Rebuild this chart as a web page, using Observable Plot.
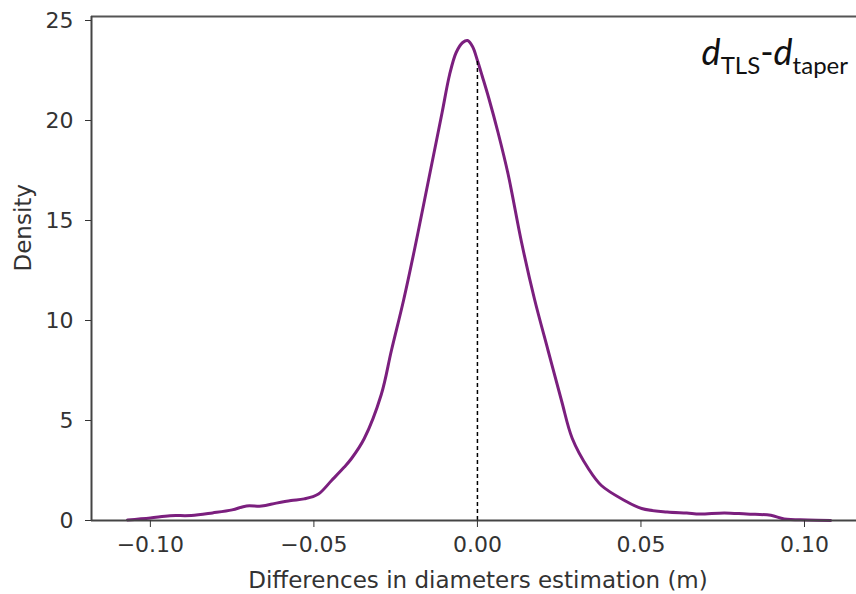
<!DOCTYPE html>
<html>
<head>
<meta charset="utf-8">
<script src="https://cdn.jsdelivr.net/npm/d3@7"></script>
<script src="https://cdn.jsdelivr.net/npm/@observablehq/plot@0.6"></script>
<style>
  html, body { margin: 0; padding: 0; background: #fff; }
  #chart svg { display: block; }
</style>
</head>
<body>
<div id="chart"></div>
<script>
// KDE curve
const diffs = [-0.107, -0.100, -0.094, -0.0875, -0.081, -0.075, -0.0706, -0.066, -0.0615, -0.057, -0.053, -0.0486, -0.0446, -0.0407, -0.0385, -0.0346, -0.0294, -0.0263, -0.0226, -0.0193, -0.0162, -0.0135, -0.0108, -0.0085, -0.0065, -0.0045, -0.003, -0.0015, 0.000, 0.0015, 0.0035, 0.0063, 0.0094, 0.0135, 0.0174, 0.0216, 0.0257, 0.029, 0.0339, 0.0379, 0.045, 0.0502, 0.058, 0.064, 0.068, 0.0755, 0.0823, 0.0897, 0.0938, 0.101, 0.108];
const density = [0.03, 0.13, 0.24, 0.25, 0.38, 0.53, 0.73, 0.72, 0.87, 1.0, 1.08, 1.33, 2.0, 2.67, 3.1, 4.1, 6.3, 8.5, 11.0, 13.5, 16.0, 18.2, 20.4, 22.3, 23.4, 23.9, 24.0, 23.7, 23.0, 22.2, 21.1, 19.4, 17.3, 13.9, 11.1, 8.5, 6.0, 4.1, 2.6, 1.75, 1.0, 0.6, 0.42, 0.37, 0.32, 0.38, 0.32, 0.26, 0.08, 0.03, 0.0];

// reference line at zero difference
const refX = [0];
const refTop = [23.0];

// axes
const xTicks = [-0.10, -0.05, 0.00, 0.05, 0.10];
const yTicks = [0, 5, 10, 15, 20, 25];
const xDomain = [-0.118, 0.1159];
const yDomain = [0, 25.2];
const xLabel = "Differences in diameters estimation (m)";
const yLabel = "Density";

const data = diffs.map((d, i) => ({x: d, y: density[i]}));
const ink = "#333";

const chart = Plot.plot({
  width: 856,
  height: 594,
  marginLeft: 91,
  marginRight: 0,
  marginTop: 16,
  marginBottom: 74,
  style: {fontFamily: "'DejaVu Sans', sans-serif", fontSize: "22px", color: ink, background: "#fff"},
  x: {domain: xDomain},
  y: {domain: yDomain},
  marks: [
    Plot.line(data, {x: "x", y: "y", stroke: "#7b1f7e", strokeWidth: 3, curve: "catmull-rom"}),
    Plot.ruleX(refX, {x: d => d, y1: 0, y2: () => refTop[0], stroke: "#000", strokeWidth: 1.5, strokeDasharray: "4,3"}),
    Plot.ruleY([yDomain[0]], {stroke: "#444", strokeWidth: 2}),
    Plot.ruleY([yDomain[1]], {stroke: "#555", strokeWidth: 2}),
    Plot.ruleX([xDomain[0]], {stroke: "#444", strokeWidth: 2}),
    Plot.axisX({ticks: xTicks, tickFormat: d => d3.format(".2f")(d).replace("-", "\u2212"), tickSize: 7, tickPadding: 9, label: null, stroke: ink, fill: ink}),
    Plot.axisY({ticks: yTicks, tickFormat: d3.format("d"), tickSize: 6, tickPadding: 12, label: null, stroke: ink, fill: ink}),
    Plot.text([xLabel], {frameAnchor: "bottom", text: d => d, dx: 4, dy: 60, fontSize: 23, fill: ink, lineAnchor: "middle"}),
    Plot.text([yLabel], {frameAnchor: "left", text: d => d, dx: -68, dy: 3, rotate: -90, fontSize: 23, fill: ink, lineAnchor: "middle"})
  ]
});

document.getElementById("chart").appendChild(chart);

// formula annotation in the top-right corner
const svg = d3.select(chart);
const t = svg.append("text")
  .attr("x", 848).attr("y", 65)
  .attr("text-anchor", "end")
  .attr("font-family", "Lato, 'Open Sans', sans-serif")
  .attr("font-size", 36)
  .attr("fill", "#111");
t.append("tspan").attr("font-style", "italic").text("d");
t.append("tspan").attr("font-size", 24).attr("dy", 9).text("TLS");
t.append("tspan").attr("dy", -9).text("-");
t.append("tspan").attr("font-style", "italic").text("d");
t.append("tspan").attr("font-size", 24).attr("dy", 9).text("taper");
</script>
</body>
</html>
